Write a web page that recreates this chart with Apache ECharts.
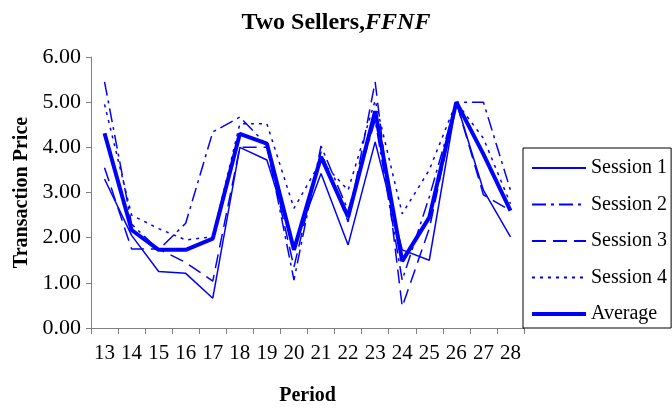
<!DOCTYPE html>
<html>
<head>
<meta charset="utf-8">
<script src="https://cdn.jsdelivr.net/npm/echarts@6/dist/echarts.min.js"></script>
<style>
  html, body { margin: 0; padding: 0; background: #fff; }
  #chart { width: 672px; height: 412px; }
</style>
</head>
<body>
<div id="chart"></div>
<script>
// periods on the x axis
var periods = ['13','14','15','16','17','18','19','20','21','22','23','24','25','26','27','28'];

// transaction prices per session
var session1 = [3.30, 2.05, 1.25, 1.21, 0.66, 4.00, 3.72, 1.80, 3.42, 1.84, 4.12, 1.73, 1.50, 5.00, 3.05, 2.02];
var session2 = [5.45, 2.30, 1.73, 2.32, 4.34, 4.67, 4.05, 1.06, 4.03, 2.60, 4.60, 1.06, 2.90, 5.00, 5.00, 3.05];
var session3 = [3.55, 1.75, 1.75, 1.45, 1.04, 4.00, 4.00, 1.35, 3.90, 2.35, 5.45, 0.47, 2.20, 5.00, 2.95, 2.60];
var session4 = [4.95, 2.50, 2.20, 1.95, 2.02, 4.52, 4.52, 2.65, 3.70, 3.05, 5.04, 2.53, 3.50, 5.00, 4.20, 2.75];
var average  = [4.31, 2.17, 1.73, 1.73, 1.98, 4.30, 4.08, 1.73, 3.79, 2.46, 4.80, 1.48, 2.45, 5.00, 3.85, 2.60];

var yTicks = [0, 1, 2, 3, 4, 5, 6];

var blue = '#0000ff';
var serif = '"Liberation Serif", "DejaVu Serif", serif';

function line(name, data, width, type) {
    return {
        name: name,
        type: 'line',
        data: data,
        symbol: 'none',
        animation: false,
        lineStyle: { color: blue, width: width, type: type },
        itemStyle: { color: blue }
    };
}

var chart = echarts.init(document.getElementById('chart'));

chart.setOption({
    backgroundColor: '#fff',
    title: {
        text: '{a|Two Sellers,}{b|FFNF}',
        left: 'center',
        top: 6,
        textStyle: {
            rich: {
                a: { fontFamily: serif, fontSize: 24, fontWeight: 'bold', color: '#000' },
                b: { fontFamily: serif, fontSize: 24, fontWeight: 'bold', fontStyle: 'italic', color: '#000' }
            }
        }
    },
    grid: { left: 91, right: 148, top: 57, bottom: 84 },
    legend: {
        orient: 'vertical',
        left: 523,
        top: 148,
        itemWidth: 54,
        itemHeight: 14,
        itemGap: 16.5,
        padding: [10, 4, 4, 7],
        borderColor: '#000',
        borderWidth: 1,
        backgroundColor: '#fff',
        itemStyle: { opacity: 0 },
        textStyle: { fontFamily: serif, fontSize: 20, color: '#000' },
        data: [
            { name: 'Session 1' },
            { name: 'Session 2' },
            { name: 'Session 3' },
            { name: 'Session 4' },
            { name: 'Average', lineStyle: { width: 4 } }
        ]
    },
    xAxis: {
        type: 'category',
        data: periods,
        boundaryGap: true,
        name: 'Period',
        nameLocation: 'middle',
        nameGap: 58,
        nameTextStyle: { fontFamily: serif, fontSize: 20, fontWeight: 'bold', color: '#000' },
        axisLine: { lineStyle: { color: '#808080', width: 1 } },
        axisTick: { show: true, length: 6, lineStyle: { color: '#808080' } },
        axisLabel: { fontFamily: serif, fontSize: 21, color: '#000', margin: 15, interval: 0 },
        splitLine: { show: false }
    },
    yAxis: {
        type: 'value',
        min: yTicks[0],
        max: yTicks[yTicks.length - 1],
        interval: 1,
        name: 'Transaction Price',
        nameLocation: 'middle',
        nameGap: 58,
        nameTextStyle: { fontFamily: serif, fontSize: 20, fontWeight: 'bold', color: '#000' },
        axisLine: { show: true, lineStyle: { color: '#808080', width: 1 } },
        axisTick: { show: true, length: 5, lineStyle: { color: '#808080' } },
        axisLabel: {
            fontFamily: serif, fontSize: 22, color: '#000', margin: 10,
            formatter: function (v) { return v.toFixed(2); }
        },
        splitLine: { show: false }
    },
    series: [
        line('Session 1', session1, 1.5, 'solid'),
        line('Session 2', session2, 1.5, [14, 5, 3, 5]),
        line('Session 3', session3, 1.5, [14, 7]),
        line('Session 4', session4, 1.5, [3, 5]),
        line('Average', average, 4, 'solid')
    ]
});
</script>
</body>
</html>
